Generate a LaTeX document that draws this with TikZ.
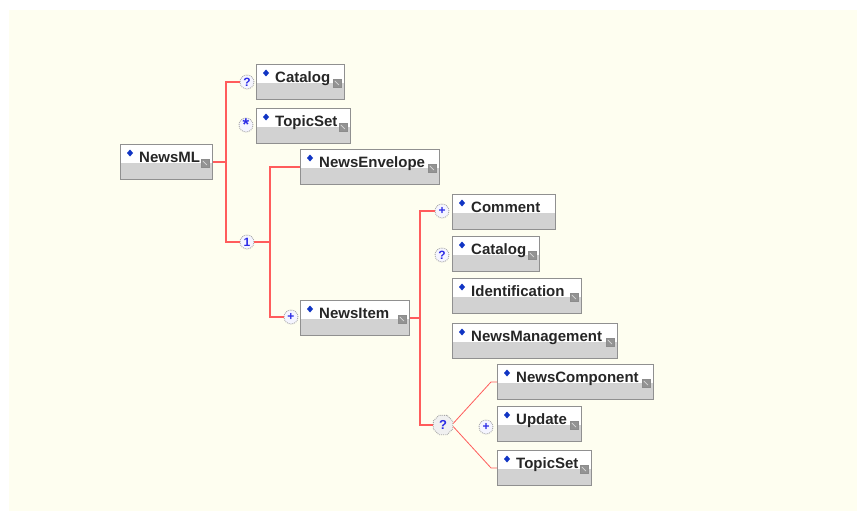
\documentclass[tikz,border=0pt]{standalone}
\usepackage{fontspec}
\setmainfont{Liberation Sans}
\usetikzlibrary{shapes.geometric}
\definecolor{bgcream}{HTML}{FEFEF0}
\definecolor{linered}{HTML}{FF5C5C}
\definecolor{boxgray}{HTML}{D2D2D2}
\definecolor{boxedge}{HTML}{909090}
\definecolor{symblue}{HTML}{2B2BE6}
\definecolor{diamblue}{HTML}{1034C4}
\newcommand\xelem[6]{%
  \node[elbox, minimum width=#4pt] (#1) at (#2,#3) {};
  \fill[diamblue, shift={(#1.north west)}] (10,5.5) -- (13,9) -- (10,12.5) -- (7,9) -- cycle;
  \node[eltext, anchor=base west] (#1-t) at ([shift={(19,18)}]#1.north west) {#5};
  \ifnum#6=1 \node[expicon] (#1-i) at ([shift={(-8,19)}]#1.north east) {};\fi
}
\begin{document}
\begin{tikzpicture}[x=1pt,y=-1pt,
  elbox/.style={draw=boxedge, line width=0.9pt, fill=white, anchor=north west,
    minimum height=35pt, inner sep=0pt,
    path picture={\fill[boxgray] ([yshift=-19pt]path picture bounding box.north west) rectangle (path picture bounding box.south east);}},
  eltext/.style={font=\bfseries\fontsize{15}{16}\selectfont, inner sep=0pt, text=black!85},
  expicon/.style={rectangle, minimum width=8pt, minimum height=8pt, inner sep=0pt,
    fill=gray!85, draw=gray!90, line width=0.5pt,
    path picture={\draw[gray!30, line width=0.7pt] ([shift={(2pt,-2pt)}]path picture bounding box.north west) -- ([shift={(-2pt,2pt)}]path picture bounding box.south east);}},
  occ/.style={circle, draw=gray!70, densely dotted, line width=0.9pt, fill=blue!4,
    minimum size=14pt, inner sep=0pt, text=symblue,
    font=\bfseries\fontsize{12}{12}\selectfont},
  choicebox/.style={regular polygon, regular polygon sides=8, draw=gray!70, densely dotted,
    line width=0.9pt, fill=gray!12, minimum size=21pt, inner sep=0pt, text=symblue,
    font=\bfseries\fontsize{13}{13}\selectfont},
  conn/.style={draw=linered, line width=1.1pt}
]
\useasboundingbox (0,0) rectangle (857,511);
\fill[white] (0,0) rectangle (857,511);
\fill[bgcream] (9,10) rectangle (857,511);

% element boxes
\xelem{newsml}{120}{144}{92}{NewsML}{1}
\xelem{cat}{256}{64}{88}{Catalog}{1}
\xelem{tset}{256}{108}{94}{TopicSet}{1}
\xelem{env}{300}{149}{139}{NewsEnvelope}{1}
\xelem{item}{300}{300}{109}{NewsItem}{1}
\xelem{comm}{452}{194}{103}{Comment}{0}
\xelem{cattwo}{452}{236}{87}{Catalog}{1}
\xelem{ident}{452}{278}{129}{Identification}{1}
\xelem{mgmt}{452}{323}{165}{NewsManagement}{1}
\xelem{ncomp}{497}{364}{156}{NewsComponent}{1}
\xelem{upd}{497}{406}{84}{Update}{1}
\xelem{tsettwo}{497}{450}{94}{TopicSet}{1}

% occurrence markers
\node[occ] (catq) at (247,82) {?};
\node[occ] (tsetq) at (246,125) {\raisebox{-4pt}{\fontsize{17}{17}\selectfont *}};
\node[occ] (one) at (247,242) {1};
\node[occ] (itemp) at (291,317) {+};
\node[occ] (commp) at (442,211) {+};
\node[occ] (cattwoq) at (442,255) {?};
\node[occ] (updp) at (486,427) {+};
\node[choicebox] (choice) at (443,425) {?};

% junction columns
\coordinate (ax) at (226,0);
\coordinate (bx) at (270,0);
\coordinate (cx) at (420,0);

% connectors
\draw[conn] (newsml.east) -- (newsml.east -| ax);
\draw[conn] (catq.west) -- (catq.west -| ax) -- (one.west -| ax) -- (one.west);
\draw[conn] (one.east) -- (one.east -| bx);
\draw[conn] (env.west) -- (env.west -| bx) -- (itemp.west -| bx) -- (itemp.west);
\draw[conn] (item.east) -- (item.east -| cx);
\draw[conn] (commp.west) -- (commp.west -| cx) -- (choice.west -| cx) -- (choice.west);
\draw[conn, line width=0.8pt] ([yshift=1.5pt]choice.east) -- ([xshift=-6pt]ncomp.west) -- (ncomp.west);
\draw[conn, line width=0.8pt] ([yshift=-1.5pt]choice.east) -- ([xshift=-6pt]tsettwo.west) -- (tsettwo.west);
\end{tikzpicture}
\end{document}
